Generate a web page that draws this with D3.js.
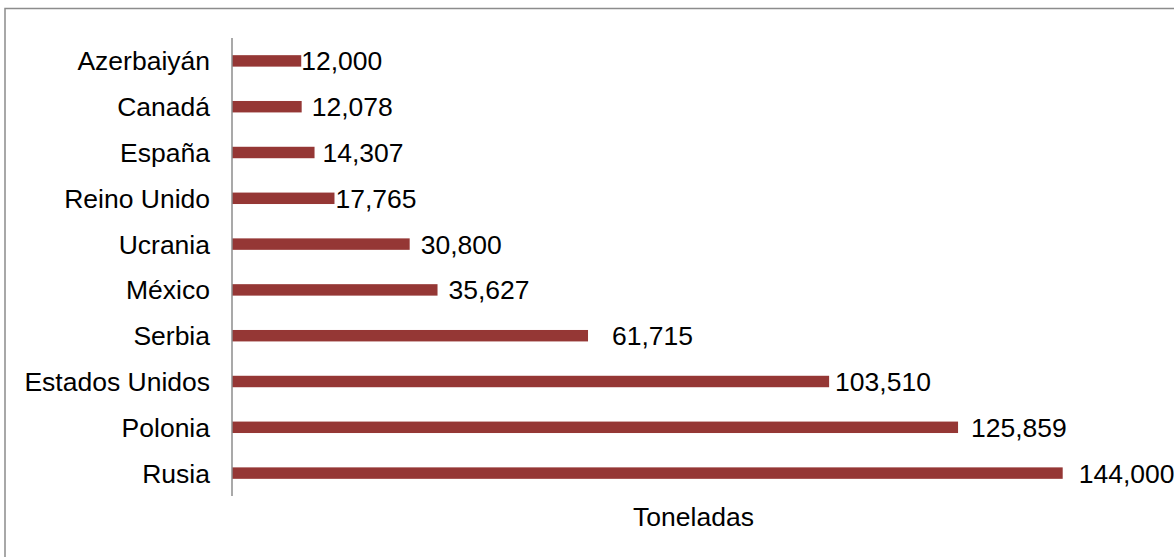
<!DOCTYPE html>
<html>
<head>
<meta charset="utf-8">
<script src="https://cdn.jsdelivr.net/npm/d3@7"></script>
<style>
  html, body { margin: 0; padding: 0; background: #ffffff; }
  svg { display: block; font-family: "Liberation Sans", Arial, sans-serif; }
</style>
</head>
<body>
<svg id="chart" width="1174" height="557"></svg>
<script>
// Countries, top to bottom
const countries = ["Azerbaiyán", "Canadá", "España", "Reino Unido", "Ucrania",
                   "México", "Serbia", "Estados Unidos", "Polonia", "Rusia"];
// Tonnes per country
const tonnes = [12000, 12078, 14307, 17765, 30800, 35627, 61715, 103510, 125859, 144000];
// Horizontal nudge of each value label past its bar end (px)
const labelNudge = [0, 10, 8, 1, 11, 11, 24, 6, 13, 16];
const axisTitle = "Toneladas";

const svg = d3.select("#chart");
const W = 1174, H = 557;
const fontSize = 26.5;

// Outer frame
svg.append("rect")
  .attr("x", 5).attr("y", 8.5)
  .attr("width", W + 10).attr("height", H + 10)
  .attr("fill", "none")
  .attr("stroke", "#8c8c8c")
  .attr("stroke-width", 1.5);

const plot = { left: 232, right: 1155, top: 38, bottom: 496 };

const x = d3.scaleLinear().domain([0, 160000]).range([plot.left, plot.right]);
const y = d3.scaleBand().domain(countries).range([plot.top, plot.bottom]).paddingInner(0.75).paddingOuter(0.375);

// Bars
svg.append("g").selectAll("rect")
  .data(countries)
  .join("rect")
  .attr("x", x(0))
  .attr("y", d => y(d))
  .attr("width", (d, i) => x(tonnes[i]) - x(0))
  .attr("height", y.bandwidth())
  .attr("fill", "#953735");

// Category axis
const yAxis = d3.axisLeft(y).tickSize(0).tickPadding(22);
const gy = svg.append("g").attr("transform", `translate(${x(0)},0)`).call(yAxis);
gy.select(".domain").attr("stroke", "#8c8c8c").attr("stroke-width", 1.5)
  .attr("d", `M0,${plot.top}V${plot.bottom}`);
gy.selectAll("text")
  .attr("font-family", "'Liberation Sans', Arial, sans-serif")
  .attr("font-size", fontSize)
  .attr("fill", "#000")
  .attr("dy", "0.36em");

// Value labels
svg.append("g").selectAll("text")
  .data(countries)
  .join("text")
  .attr("x", (d, i) => x(tonnes[i]) + labelNudge[i])
  .attr("y", d => y(d) + y.bandwidth() / 2)
  .attr("dy", "0.36em")
  .attr("font-size", fontSize)
  .attr("fill", "#000")
  .text((d, i) => d3.format(",")(tonnes[i]));

// Axis title
svg.append("text")
  .attr("x", (plot.left + plot.right) / 2)
  .attr("y", 526)
  .attr("text-anchor", "middle")
  .attr("font-size", fontSize)
  .attr("fill", "#000")
  .text(axisTitle);
</script>
</body>
</html>
